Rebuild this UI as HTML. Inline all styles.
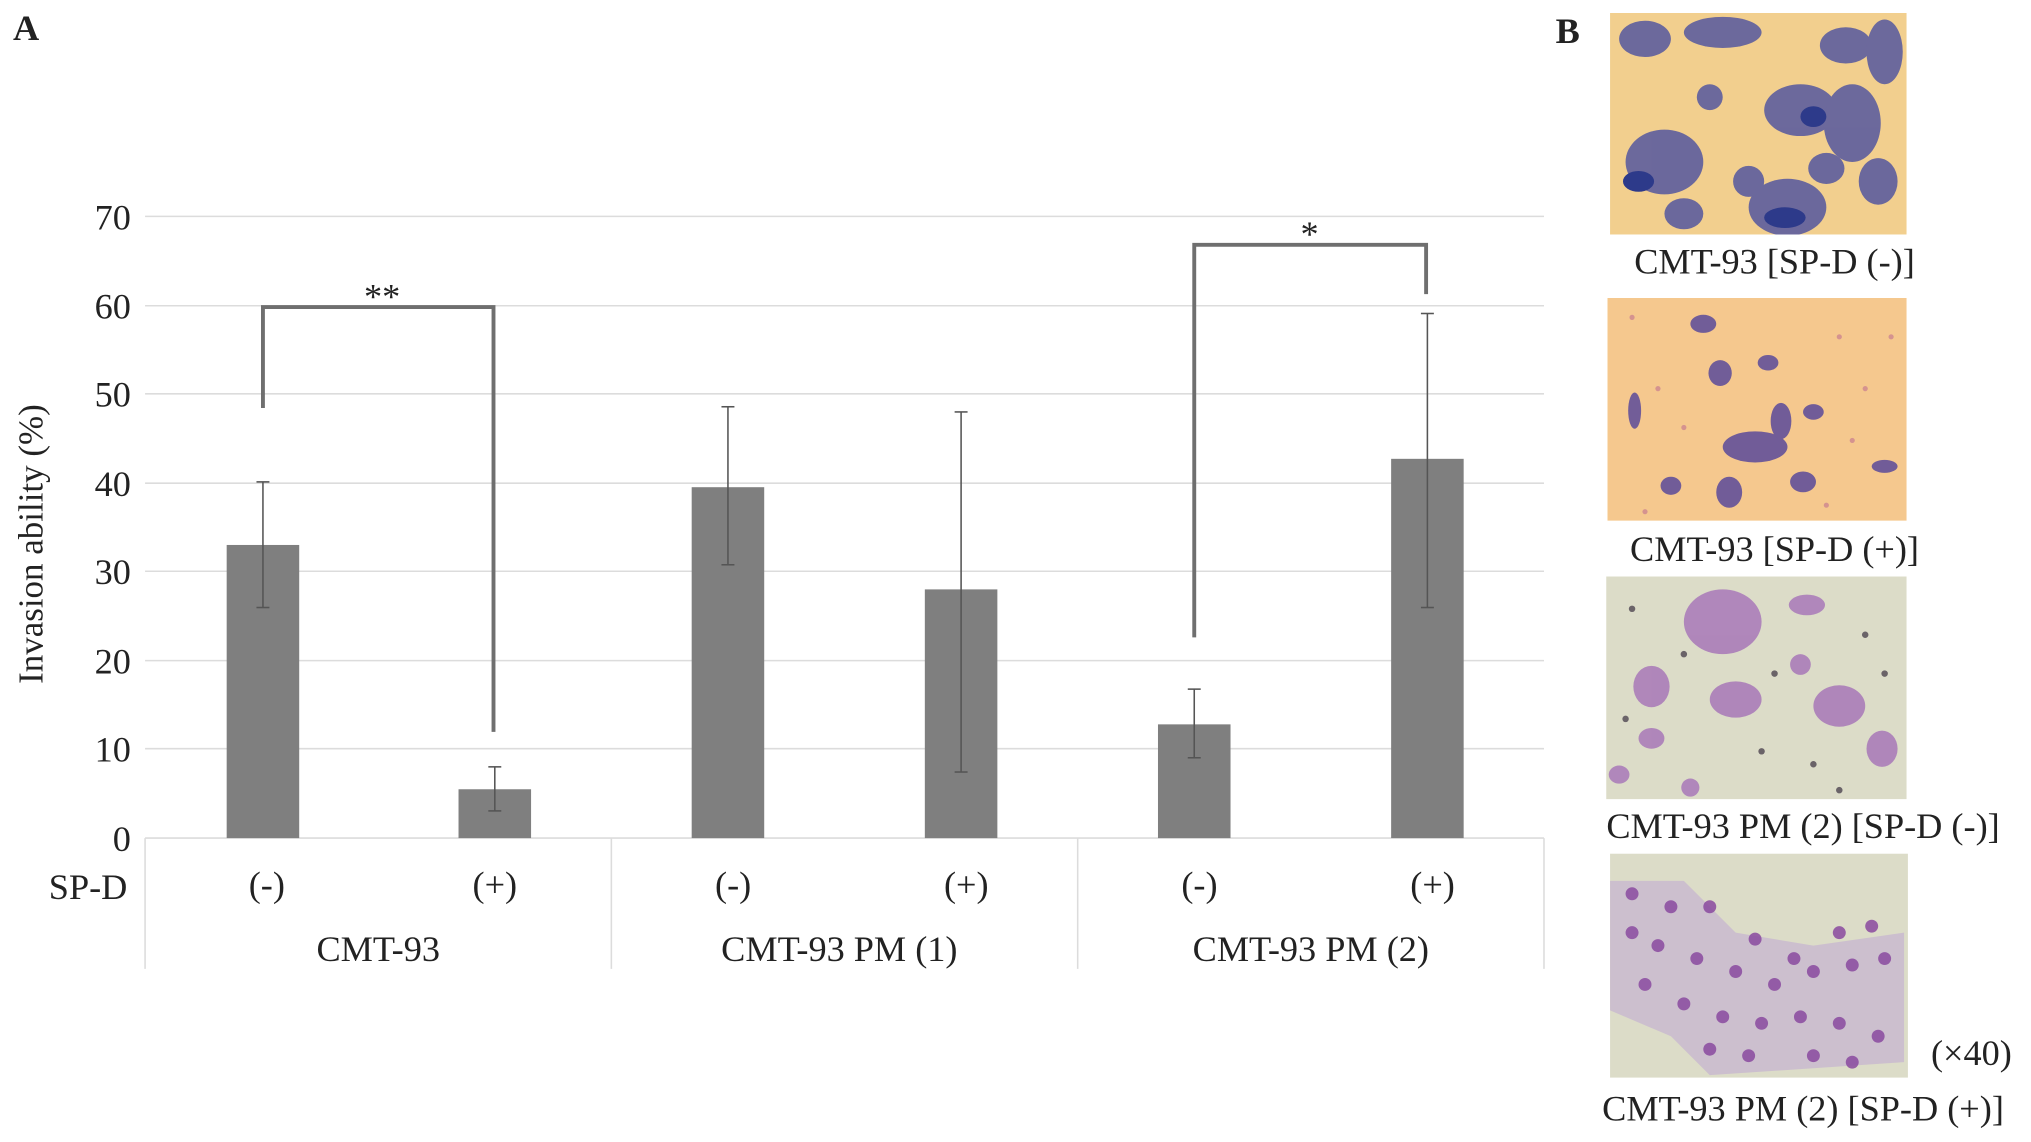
<!DOCTYPE html>
<html><head><meta charset="utf-8"><style>
html,body{margin:0;padding:0;background:#fff;}
svg{display:block;}
svg text{font-family:"Liberation Serif","Times New Roman",serif;fill:#222;}
</style></head><body>
<svg width="2031" height="1142" viewBox="0 0 1568 881.6" xmlns="http://www.w3.org/2000/svg" font-family="Liberation Serif, serif">
<rect width="1568" height="882" fill="#fff"/>
<text x="10" y="31" font-size="28" font-weight="bold">A</text>
<text x="1201" y="33" font-size="28" font-weight="bold">B</text>
<g stroke="#dcdcdc" stroke-width="1.2">
<line x1="112" y1="167" x2="1192" y2="167"/><line x1="112" y1="236" x2="1192" y2="236"/>
<line x1="112" y1="304" x2="1192" y2="304"/><line x1="112" y1="373" x2="1192" y2="373"/>
<line x1="112" y1="441" x2="1192" y2="441"/><line x1="112" y1="510" x2="1192" y2="510"/>
<line x1="112" y1="578" x2="1192" y2="578"/><line x1="112" y1="647" x2="1192" y2="647"/>
<line x1="112" y1="647" x2="112" y2="748"/><line x1="472" y1="647" x2="472" y2="748"/>
<line x1="832" y1="647" x2="832" y2="748"/><line x1="1192" y1="647" x2="1192" y2="748"/>
</g>
<g font-size="28" text-anchor="end">
<text x="101" y="177">70</text><text x="101" y="246">60</text><text x="101" y="314">50</text>
<text x="101" y="383">40</text><text x="101" y="451">30</text><text x="101" y="520">20</text>
<text x="101" y="588">10</text><text x="101" y="657">0</text>
</g>
<text transform="translate(33,420) rotate(-90)" font-size="27" text-anchor="middle">Invasion ability  (%)</text>
<g fill="#7f7f7f">
<rect x="175" y="420.7" width="56" height="226.3"/>
<rect x="354" y="609.3" width="56" height="37.7"/>
<rect x="534" y="376.1" width="56" height="270.9"/>
<rect x="714" y="455" width="56" height="192"/>
<rect x="894" y="559.2" width="56" height="87.8"/>
<rect x="1074" y="354.2" width="56" height="292.8"/>
</g>
<g stroke="#555" stroke-width="1.2">
<line x1="203" y1="372" x2="203" y2="469"/><line x1="198" y1="372" x2="208" y2="372"/><line x1="198" y1="469" x2="208" y2="469"/>
<line x1="382" y1="592" x2="382" y2="626"/><line x1="377" y1="592" x2="387" y2="592"/><line x1="377" y1="626" x2="387" y2="626"/>
<line x1="562" y1="314" x2="562" y2="436"/><line x1="557" y1="314" x2="567" y2="314"/><line x1="557" y1="436" x2="567" y2="436"/>
<line x1="742" y1="318" x2="742" y2="596"/><line x1="737" y1="318" x2="747" y2="318"/><line x1="737" y1="596" x2="747" y2="596"/>
<line x1="922" y1="532" x2="922" y2="585"/><line x1="917" y1="532" x2="927" y2="532"/><line x1="917" y1="585" x2="927" y2="585"/>
<line x1="1102" y1="242" x2="1102" y2="469"/><line x1="1097" y1="242" x2="1107" y2="242"/><line x1="1097" y1="469" x2="1107" y2="469"/>
</g>
<g stroke="#6f6f6f" stroke-width="3" fill="none">
<polyline points="203,315 203,237 381,237 381,565"/>
<polyline points="922,492 922,189 1101,189 1101,227"/>
</g>
<text x="295" y="238" font-size="28" text-anchor="middle">**</text>
<text x="1011" y="190" font-size="28" text-anchor="middle">*</text>
<g font-size="28" text-anchor="middle">
<text x="68" y="694">SP-D</text>
<text x="206" y="692">(-)</text><text x="382" y="692">(+)</text>
<text x="566" y="692">(-)</text><text x="746" y="692">(+)</text>
<text x="926" y="692">(-)</text><text x="1106" y="692">(+)</text>
<text x="292" y="742">CMT-93</text><text x="648" y="742">CMT-93 PM (1)</text><text x="1012" y="742">CMT-93 PM (2)</text>
</g>
<defs>
<clipPath id="c1"><rect x="1243" y="10" width="229" height="171"/></clipPath>
<clipPath id="c2"><rect x="1241" y="230" width="231" height="172"/></clipPath>
<clipPath id="c3"><rect x="1240" y="445" width="232" height="172"/></clipPath>
<clipPath id="c4"><rect x="1243" y="659" width="230" height="173"/></clipPath>
</defs>
<g clip-path="url(#c1)">
<rect x="1243" y="10" width="229" height="171" fill="#f2cf8e"/>
<g fill="#4a4fa0" opacity="0.8">
<ellipse cx="1285" cy="125" rx="30" ry="25"/><ellipse cx="1380" cy="160" rx="30" ry="22"/>
<ellipse cx="1390" cy="85" rx="28" ry="20"/><ellipse cx="1430" cy="95" rx="22" ry="30"/>
<ellipse cx="1425" cy="35" rx="20" ry="14"/><ellipse cx="1455" cy="40" rx="14" ry="25"/>
<ellipse cx="1330" cy="25" rx="30" ry="12"/><ellipse cx="1270" cy="30" rx="20" ry="14"/>
<ellipse cx="1350" cy="140" rx="12" ry="12"/><ellipse cx="1300" cy="165" rx="15" ry="12"/>
<ellipse cx="1450" cy="140" rx="15" ry="18"/><ellipse cx="1320" cy="75" rx="10" ry="10"/>
<ellipse cx="1410" cy="130" rx="14" ry="12"/>
</g>
<g fill="#2d3a8a"><ellipse cx="1265" cy="140" rx="12" ry="8"/><ellipse cx="1378" cy="168" rx="16" ry="8"/><ellipse cx="1400" cy="90" rx="10" ry="8"/></g>
</g>
<text x="1370" y="211" font-size="28" text-anchor="middle">CMT-93 [SP-D (-)]</text>
<g clip-path="url(#c2)">
<rect x="1241" y="230" width="231" height="172" fill="#f5c88e"/>
<g fill="#5a4a9a" opacity="0.85">
<ellipse cx="1355" cy="345" rx="25" ry="12"/><ellipse cx="1375" cy="325" rx="8" ry="14"/>
<ellipse cx="1328" cy="288" rx="9" ry="10"/><ellipse cx="1335" cy="380" rx="10" ry="12"/>
<ellipse cx="1290" cy="375" rx="8" ry="7"/><ellipse cx="1315" cy="250" rx="10" ry="7"/>
<ellipse cx="1262" cy="317" rx="5" ry="14"/><ellipse cx="1365" cy="280" rx="8" ry="6"/>
<ellipse cx="1400" cy="318" rx="8" ry="6"/><ellipse cx="1455" cy="360" rx="10" ry="5"/>
<ellipse cx="1392" cy="372" rx="10" ry="8"/>
</g>
<g fill="#c07090" opacity="0.6">
<circle cx="1260" cy="245" r="2"/><circle cx="1280" cy="300" r="2"/><circle cx="1300" cy="330" r="2"/>
<circle cx="1420" cy="260" r="2"/><circle cx="1440" cy="300" r="2"/><circle cx="1460" cy="260" r="2"/>
<circle cx="1410" cy="390" r="2"/><circle cx="1270" cy="395" r="2"/><circle cx="1430" cy="340" r="2"/>
</g>
</g>
<text x="1370" y="433" font-size="28" text-anchor="middle">CMT-93  [SP-D (+)]</text>
<g clip-path="url(#c3)">
<rect x="1240" y="445" width="232" height="172" fill="#dcdcc8"/>
<g fill="#a878b8" opacity="0.85">
<ellipse cx="1330" cy="480" rx="30" ry="25"/><ellipse cx="1275" cy="530" rx="14" ry="16"/>
<ellipse cx="1340" cy="540" rx="20" ry="14"/><ellipse cx="1420" cy="545" rx="20" ry="16"/>
<ellipse cx="1395" cy="467" rx="14" ry="8"/><ellipse cx="1275" cy="570" rx="10" ry="8"/>
<ellipse cx="1453" cy="578" rx="12" ry="14"/><ellipse cx="1250" cy="598" rx="8" ry="7"/>
<ellipse cx="1305" cy="608" rx="7" ry="7"/><ellipse cx="1390" cy="513" rx="8" ry="8"/>
</g>
<g fill="#3a3040" opacity="0.7">
<circle cx="1260" cy="470" r="2.5"/><circle cx="1300" cy="505" r="2.5"/><circle cx="1370" cy="520" r="2.5"/>
<circle cx="1440" cy="490" r="2.5"/><circle cx="1455" cy="520" r="2.5"/><circle cx="1400" cy="590" r="2.5"/>
<circle cx="1360" cy="580" r="2.5"/><circle cx="1420" cy="610" r="2.5"/><circle cx="1255" cy="555" r="2.5"/>
</g>
</g>
<text x="1392" y="647" font-size="28" text-anchor="middle">CMT-93 PM (2)  [SP-D (-)]</text>
<g clip-path="url(#c4)">
<rect x="1243" y="659" width="230" height="173" fill="#dcdcc8"/>
<path d="M1243 680 L1300 680 L1340 720 L1400 730 L1470 720 L1470 820 L1320 830 L1290 800 L1243 780 Z" fill="#c8b8d0" opacity="0.8"/>
<g fill="#8a4aa0" opacity="0.85">
<circle cx="1260" cy="690" r="5"/><circle cx="1290" cy="700" r="5"/><circle cx="1280" cy="730" r="5"/>
<circle cx="1310" cy="740" r="5"/><circle cx="1340" cy="750" r="5"/><circle cx="1370" cy="760" r="5"/>
<circle cx="1400" cy="750" r="5"/><circle cx="1430" cy="745" r="5"/><circle cx="1455" cy="740" r="5"/>
<circle cx="1420" cy="720" r="5"/><circle cx="1445" cy="715" r="5"/><circle cx="1300" cy="775" r="5"/>
<circle cx="1330" cy="785" r="5"/><circle cx="1360" cy="790" r="5"/><circle cx="1390" cy="785" r="5"/>
<circle cx="1420" cy="790" r="5"/><circle cx="1450" cy="800" r="5"/><circle cx="1270" cy="760" r="5"/>
<circle cx="1320" cy="810" r="5"/><circle cx="1350" cy="815" r="5"/><circle cx="1400" cy="815" r="5"/>
<circle cx="1430" cy="820" r="5"/><circle cx="1385" cy="740" r="5"/><circle cx="1355" cy="725" r="5"/>
<circle cx="1260" cy="720" r="5"/><circle cx="1320" cy="700" r="5"/>
</g>
</g>
<text x="1522" y="822" font-size="28" text-anchor="middle">(×40)</text>
<text x="1392" y="865" font-size="28" text-anchor="middle">CMT-93 PM (2)  [SP-D (+)]</text>
</svg>
</body></html>
